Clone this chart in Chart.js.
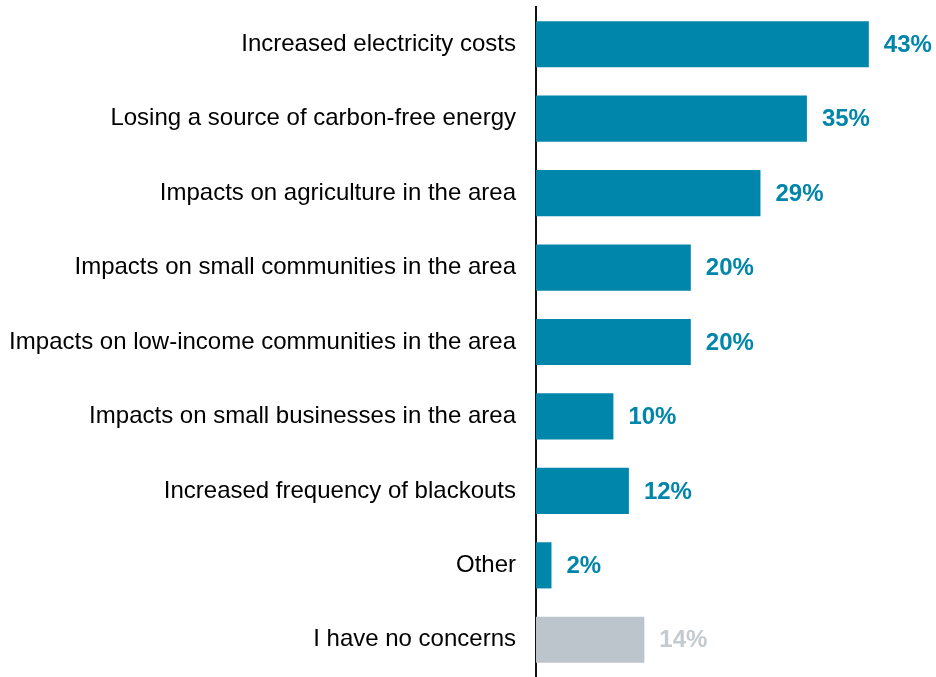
<!DOCTYPE html>
<html>
<head>
<meta charset="utf-8">
<script src="https://cdn.jsdelivr.net/npm/chart.js@4"></script>
<style>
  html, body { margin: 0; padding: 0; background: #fff; }
  #wrap { width: 936px; height: 677px; }
</style>
</head>
<body>
<div id="wrap"><canvas id="concerns" width="936" height="677"></canvas></div>
<script>
const categories = [
  "Increased electricity costs",
  "Losing a source of carbon-free energy",
  "Impacts on agriculture in the area",
  "Impacts on small communities in the area",
  "Impacts on low-income communities in the area",
  "Impacts on small businesses in the area",
  "Increased frequency of blackouts",
  "Other",
  "I have no concerns"
];
const shares = [43, 35, 29, 20, 20, 10, 12, 2, 14];

const BLUE = "#0085ab";
const GREY = "#bcc5cb";
const GREY_TEXT = "#c3cbd0";
const FONT = "'Liberation Sans', Arial, sans-serif";
const isNone = c => c === "I have no concerns";

// percentage labels to the right of each bar
const valueLabels = {
  id: "valueLabels",
  afterDatasetsDraw(chart) {
    const ctx = chart.ctx;
    const meta = chart.getDatasetMeta(0);
    ctx.save();
    ctx.font = "bold 24px " + FONT;
    ctx.textBaseline = "middle";
    ctx.textAlign = "left";
    meta.data.forEach((bar, i) => {
      ctx.fillStyle = isNone(categories[i]) ? GREY_TEXT : BLUE;
      ctx.fillText(shares[i] + "%", bar.x + 15, bar.y + 1);
    });
    ctx.restore();
  }
};

new Chart(document.getElementById("concerns"), {
  type: "bar",
  data: {
    labels: categories,
    datasets: [{
      data: shares,
      backgroundColor: categories.map(c => isNone(c) ? GREY : BLUE),
      borderWidth: 0,
      categoryPercentage: 1,
      barPercentage: 0.62
    }]
  },
  options: {
    indexAxis: "y",
    responsive: false,
    animation: false,
    layout: { padding: { top: 7, right: 13, bottom: 0, left: 0 } },
    plugins: {
      legend: { display: false },
      tooltip: { enabled: false }
    },
    scales: {
      x: {
        display: false,
        min: 0,
        max: 50
      },
      y: {
        grid: { display: false, drawTicks: false },
        border: { display: true, color: "#111", width: 2 },
        afterFit(scale) {
          // fixed gutter for the category names, no extra top/bottom margin
          scale.width = 536;
          scale.paddingTop = 0;
          scale.paddingBottom = 0;
        },
        ticks: {
          padding: 20,
          color: "#000",
          font: { family: FONT, size: 24 }
        }
      }
    }
  },
  plugins: [valueLabels]
});
</script>
</body>
</html>
